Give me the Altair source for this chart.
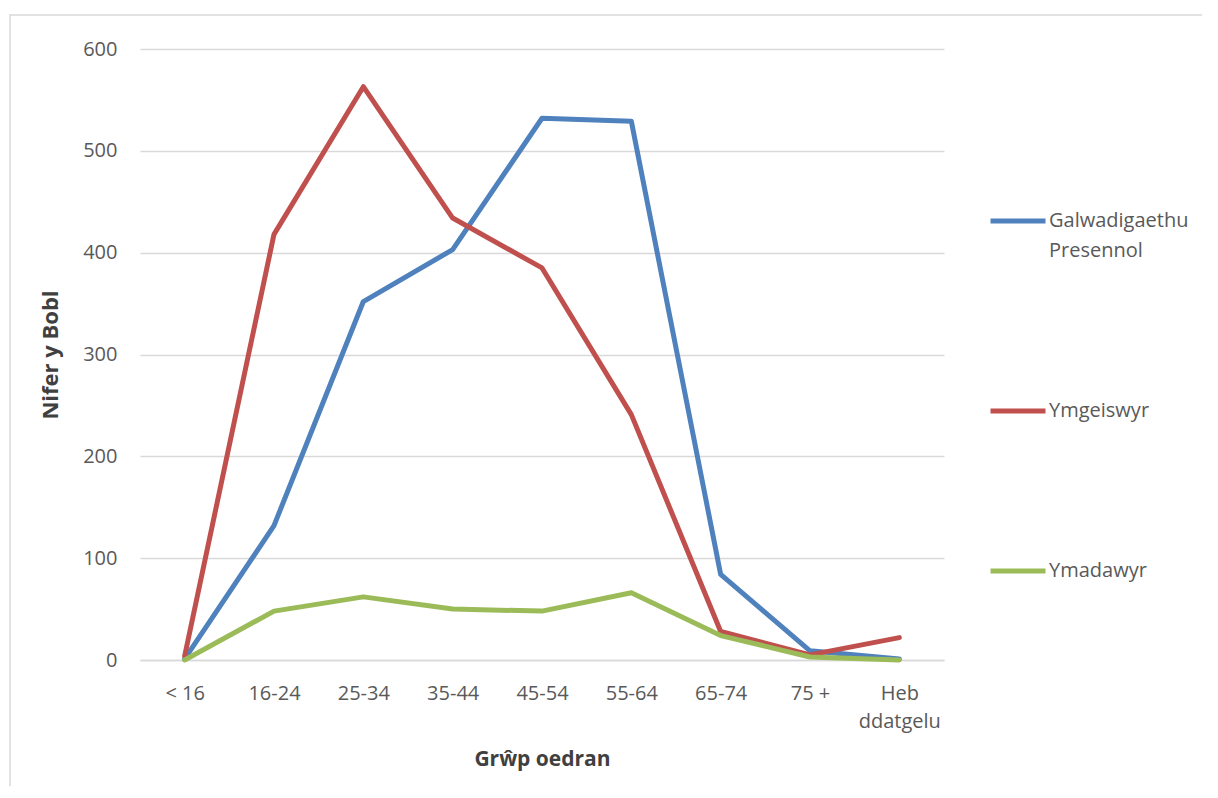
import altair as alt
import pandas as pd

categories = ["< 16", "16-24", "25-34", "35-44", "45-54", "55-64", "65-74", "75 +", "Heb ddatgelu"]
series_names = ["Galwadigaethu Presennol", "Ymgeiswyr", "Ymadawyr"]
galwadigaethu = [1, 132, 352, 403, 532, 529, 84, 9, 1]
ymgeiswyr = [4, 418, 563, 434, 385, 241, 28, 5, 22]
ymadawyr = [0, 48, 62, 50, 48, 66, 24, 3, 0]
colors = ["#4F81BD", "#C0504D", "#9BBB59"]
y_ticks = [0, 100, 200, 300, 400, 500, 600]

rows = []
for name, vals in zip(series_names, [galwadigaethu, ymgeiswyr, ymadawyr]):
    for c, v in zip(categories, vals):
        rows.append({"grwp": c, "cyfres": name, "nifer": v})
df = pd.DataFrame(rows)

FONT = "Open Sans"
GREY = "#595959"
GRID = "#D9D9D9"

lines = alt.Chart(df).mark_line(strokeWidth=5, strokeJoin="round", strokeCap="round").encode(
    x=alt.X(
        "grwp:N",
        sort=categories,
        scale=alt.Scale(type="point", padding=0.5),
        axis=alt.Axis(
            title="Grŵp oedran",
            labelAngle=0,
            labelExpr="datum.label == 'Heb ddatgelu' ? ['Heb', 'ddatgelu'] : datum.label",
            labelFont=FONT, labelFontSize=20, labelColor=GREY, labelLineHeight=28,
            labelPadding=23, ticks=False, tickSize=0,
            domainColor=GRID, domainWidth=1.5, grid=False,
            titleFont=FONT, titleFontSize=21, titleFontWeight="bold", titleColor="#404040",
            titleY=88, titleBaseline="top",
        ),
    ),
    y=alt.Y(
        "nifer:Q",
        scale=alt.Scale(domain=[0, 600], nice=False),
        axis=alt.Axis(
            title="Nifer y Bobl", values=y_ticks,
            labelFont=FONT, labelFontSize=20, labelColor=GREY, labelPadding=23,
            ticks=False, tickSize=0, domain=False,
            grid=True, gridColor=GRID, gridWidth=1.5,
            titleFont=FONT, titleFontSize=22, titleFontWeight="bold", titleColor="#404040",
            titlePadding=20,
        ),
    ),
    color=alt.Color(
        "cyfres:N",
        scale=alt.Scale(domain=series_names, range=colors),
        legend=alt.Legend(
            title=None, orient="none", legendX=848, legendY=142,
            symbolType="stroke", symbolSize=3025, symbolStrokeWidth=5,
            labelFont=FONT, labelFontSize=20, labelColor=GREY, labelOffset=1,
            labelLimit=400, rowPadding=120, padding=0,
            labelExpr="datum.label == 'Galwadigaethu Presennol' ? ['Galwadigaethu', 'Presennol'] : datum.label",
        ),
    ),
)

frame = alt.Chart(pd.DataFrame({"f": [0]})).mark_rect(
    fill="transparent", stroke=GRID, strokeWidth=1.5
).encode(
    x=alt.value(-130), x2=alt.value(1200), y=alt.value(-34), y2=alt.value(900)
)

chart = alt.layer(frame, lines).properties(
    width=804, height=611,
    autosize=alt.AutoSizeParams(type="none"),
    padding={"left": 132, "top": 41, "right": 258, "bottom": 126},
).configure(
    font=FONT,
    view=alt.ViewConfig(stroke=None),
    style={"guide-label": {"lineHeight": 30}},
)

chart.save("out.html", embed_options={"renderer": "svg", "actions": False})
